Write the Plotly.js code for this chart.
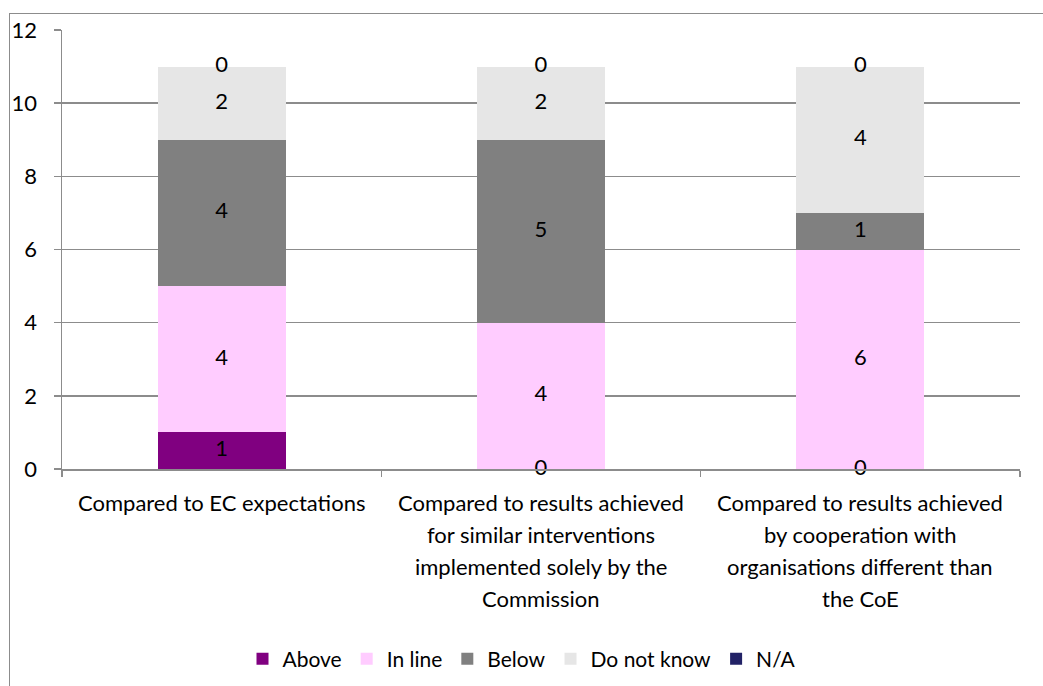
<!DOCTYPE html>
<html>
<head>
<meta charset="utf-8">
<script src="https://cdn.plot.ly/plotly-3.0.1.min.js"></script>
<style>
  html, body { margin: 0; padding: 0; background: #fff; }
  #wrap { position: relative; width: 1043px; height: 686px; overflow: hidden; }
  #chart { width: 1043px; height: 686px; }
  #frame { position: absolute; left: 9px; top: 13px; width: 1100px; height: 720px;
           border: 1.5px solid #8c8c8c; pointer-events: none; }
</style>
</head>
<body>
<div id="wrap"><div id="chart"></div><div id="frame"></div></div>
<script>
// ---- data ----
const categories = ['Compared to EC expectations',
  'Compared to results achieved for similar interventions implemented solely by the Commission',
  'Compared to results achieved by cooperation with organisations different than the CoE'];
const categoryLines = [
  ['Compared to EC expectations'],
  ['Compared to results achieved', 'for similar interventions', 'implemented solely by the', 'Commission'],
  ['Compared to results achieved', 'by cooperation with', 'organisations different than', 'the CoE']
];
const seriesNames = ['Above', 'In line', 'Below', 'Do not know', 'N/A'];
const above     = [1, 0, 0];
const inLine    = [4, 4, 6];
const below     = [4, 5, 1];
const doNotKnow = [2, 2, 4];
const notApplicable = [0, 0, 0];
const seriesColors = ['#800080', '#FFCCFF', '#808080', '#E6E6E6', '#222266'];
const yTicks = [0, 2, 4, 6, 8, 10, 12];

// ---- build ----
const seriesValues = [above, inLine, below, doNotKnow, notApplicable];
const FONT = 'Lato, Carlito, Calibri, sans-serif';
const FS = 22;
const traces = [];
seriesValues.forEach((vals, i) => {
  traces.push({
    type: 'bar', name: seriesNames[i], x: categories, y: vals,
    marker: { color: seriesColors[i], line: { width: 0 } },
    hoverinfo: 'skip'
  });
});
// labels at segment centres (zero segments labelled at their base)
const base = [0, 0, 0];
const lx = [], ly = [], lt = [];
seriesValues.forEach(vals => {
  vals.forEach((v, j) => {
    lx.push(categories[j]); ly.push(base[j] + v / 2); lt.push(String(v));
    base[j] += v;
  });
});
traces.push({
  type: 'scatter', mode: 'text', x: lx, y: ly, text: lt,
  textposition: 'middle center', textfont: { family: FONT, size: FS, color: '#000' },
  showlegend: false, hoverinfo: 'skip', cliponaxis: false
});

const annotations = [];
categoryLines.forEach((lines, j) => {
  lines.forEach((ln, k) => {
    annotations.push({
      x: categories[j], xref: 'x', y: 0, yref: 'paper', yanchor: 'middle',
      yshift: -(33 + k * 32), text: ln, showarrow: false,
      font: { family: FONT, size: FS, color: '#000' }
    });
  });
});

const layout = {
  width: 1043, height: 686,
  margin: { l: 62, r: 23, t: 30, b: 217 },
  paper_bgcolor: '#fff', plot_bgcolor: '#fff',
  barmode: 'stack', bargap: 0.6,
  font: { family: FONT, size: FS, color: '#000' },
  xaxis: {
    type: 'category', showticklabels: false, ticks: 'outside', tickson: 'boundaries',
    ticklen: 6, tickcolor: '#8c8c8c', tickwidth: 1.5,
    showline: true, linecolor: '#8c8c8c', linewidth: 1.5, showgrid: false, zeroline: false,
    fixedrange: true
  },
  yaxis: {
    range: [0, 12], tickvals: yTicks, ticktext: yTicks.map(String),
    ticks: 'outside', ticklen: 7, tickcolor: '#8c8c8c', tickwidth: 1.5,
    showline: true, linecolor: '#8c8c8c', linewidth: 1.5,
    showgrid: true, gridcolor: '#8c8c8c', gridwidth: 1.5, zeroline: false,
    tickfont: { family: FONT, size: FS, color: '#000' }, ticklabelstandoff: 12
  },
  legend: {
    orientation: 'h', xref: 'container', x: 0.5, xanchor: 'center',
    yref: 'container', y: 1 - 659 / 686, yanchor: 'middle',
    font: { family: FONT, size: 21, color: '#000' }, traceorder: 'normal',
    itemclick: false, itemdoubleclick: false, itemwidth: 30
  },
  annotations: annotations,
  showlegend: true
};

Plotly.newPlot('chart', traces, layout, { displayModeBar: false, staticPlot: true });
</script>
</body>
</html>
